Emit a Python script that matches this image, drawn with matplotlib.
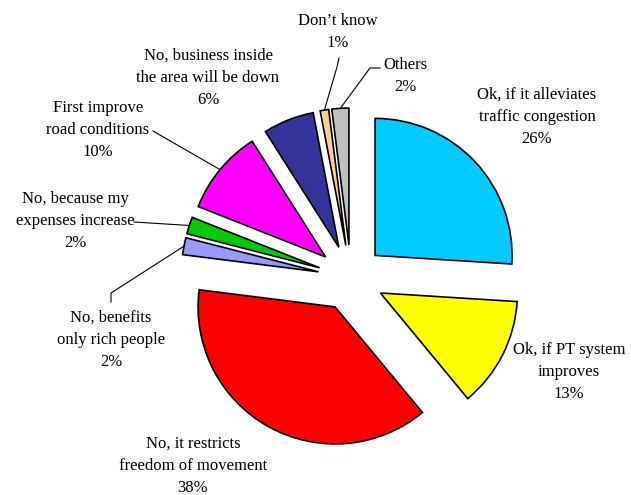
import matplotlib
matplotlib.use("Agg")
import matplotlib.pyplot as plt
import numpy as np

plt.rcParams['font.family'] = ['Liberation Serif', 'DejaVu Serif']

# Answers and shares (%), clockwise from 12 o'clock
labels = ["Ok, if it alleviates\ntraffic congestion",
          "Ok, if PT system\nimproves",
          "No, it restricts\nfreedom of movement",
          "No, benefits\nonly rich people",
          "No, because my\nexpenses increase",
          "First improve\nroad conditions",
          "No, business inside\nthe area will be down",
          "Don\u2019t know",
          "Others"]
shares = [26, 13, 38, 2, 2, 10, 6, 1, 2]
colors = ["#00CCFF", "#FFFF00", "#FF0000", "#9999FF", "#00CC00",
          "#FF00FF", "#333399", "#FFCC99", "#C0C0C0"]

# label block centres (figure pixels, y measured up)
label_pos = [(537, 378), (569, 123), (193, 29), (111, 155), (75, 274),
             (98, 365), (208, 417), (338, 463), (405, 419)]

W, H = 631, 495
fig = plt.figure(figsize=(W / 100, H / 100), dpi=100)
ax = fig.add_axes([0, 0, 1, 1])

cx, cy, r = 351, 217, 137
gap = 33  # every slice is pulled out by the same distance
wedges, _ = ax.pie(shares, colors=colors, startangle=90, counterclock=False,
                   center=(cx, cy), radius=r, explode=[gap] * len(shares),
                   wedgeprops=dict(edgecolor='black', linewidth=1.2),
                   frame=True)
ax.set_xlim(0, W)
ax.set_ylim(0, H)
ax.set_aspect('equal')
ax.axis('off')

for lab, s, (tx, ty) in zip(labels, shares, label_pos):
    ax.text(tx, ty, f"{lab}\n{s}%", ha='center', va='center',
            fontsize=12, linespacing=1.5)


def outer_mid(i):
    # point on the arc at the middle of wedge i
    w = wedges[i]
    a = np.deg2rad((w.theta1 + w.theta2) / 2)
    x0, y0 = w.center
    return x0 + w.r * np.cos(a), y0 + w.r * np.sin(a)


# leader lines: start points near the label, end on the wedge
leaders = {3: [(111, 193), (111, 202)],
           4: [(134, 273)],
           5: [(153, 364)],
           7: [(339, 437), (337, 428)],
           8: [(380, 427), (370, 427)]}
for i, pts in leaders.items():
    pts = pts + [outer_mid(i)]
    xs, ys = zip(*pts)
    ax.plot(xs, ys, color='black', linewidth=0.8)

fig.savefig("out.png", dpi=100)
